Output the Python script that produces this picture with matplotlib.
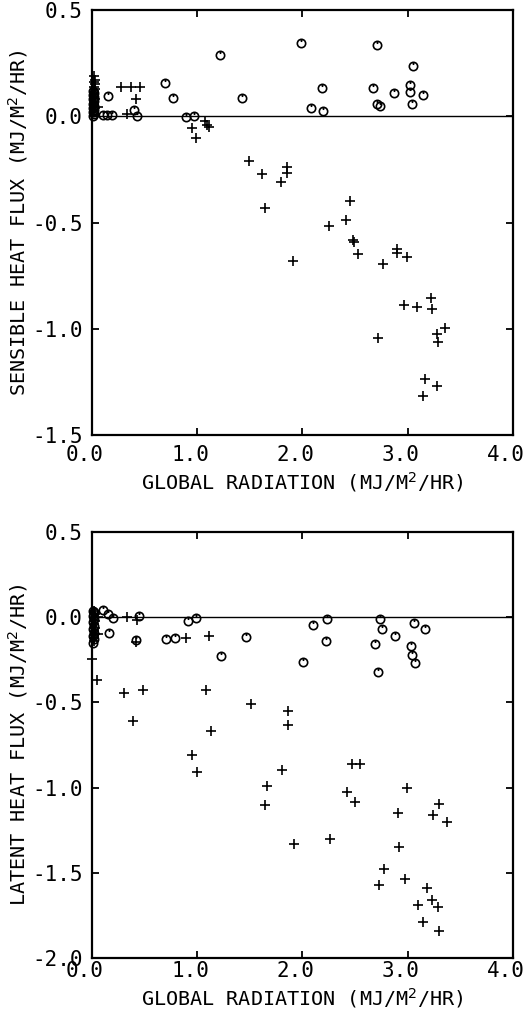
import matplotlib
matplotlib.use("Agg")
import matplotlib.pyplot as plt
from matplotlib.path import Path
from matplotlib.transforms import ScaledTranslation

plt.rcParams['font.family'] = ['DejaVu Sans Mono', 'DejaVu Sans']
plt.rcParams['axes.unicode_minus'] = False

# upper panel: sensible heat flux
sens_plus_x = [0.02, 0.03, 0.02, 0.03, 0.02, 0.03, 0.02, 0.02, 0.03, 0.02, 0.03, 0.02,
               0.06, 0.28, 0.37, 0.46, 0.42, 0.33, 0.95, 0.99, 1.07, 1.09, 1.11,
               1.49, 1.62, 1.80, 1.85, 1.85, 1.64, 2.45, 2.41, 2.25, 1.91, 2.48, 2.49,
               2.53, 2.77, 2.90, 2.90, 2.99, 2.97, 3.09, 3.22, 3.23, 3.36, 3.28, 3.29,
               2.72, 3.17, 3.28, 3.15]
sens_plus_y = [0.19, 0.17, 0.16, 0.15, 0.14, 0.13, 0.12, 0.10, 0.08, 0.06, 0.04, 0.02,
               0.044, 0.14, 0.14, 0.14, 0.08, 0.012, -0.055, -0.10, -0.02, -0.04, -0.05,
               -0.21, -0.27, -0.31, -0.24, -0.265, -0.43, -0.40, -0.49, -0.515, -0.68, -0.58, -0.59,
               -0.65, -0.695, -0.625, -0.645, -0.66, -0.886, -0.896, -0.855, -0.907, -0.995, -1.026, -1.06,
               -1.045, -1.237, -1.27, -1.318]
sens_circ_x = [0.01, 0.02, 0.01, 0.02, 0.01, 0.02, 0.01, 0.02, 0.01, 0.02, 0.01, 0.02, 0.01,
               0.10, 0.145, 0.19, 0.155, 0.40, 0.43, 0.69, 0.77, 1.22, 0.89, 0.97, 1.43,
               1.99, 2.71, 3.05, 2.19, 2.67, 2.87, 3.02, 3.02, 3.15, 2.08, 2.20, 2.71, 2.74, 3.04]
sens_circ_y = [0.12, 0.11, 0.10, 0.09, 0.08, 0.07, 0.06, 0.05, 0.04, 0.03, 0.02, 0.01, 0.0,
               0.007, 0.005, 0.007, 0.097, 0.03, 0.0, 0.155, 0.088, 0.287, -0.003, 0.003, 0.085,
               0.347, 0.337, 0.237, 0.133, 0.135, 0.108, 0.146, 0.116, 0.10, 0.04, 0.024, 0.06, 0.05, 0.058]

# lower panel: latent heat flux
lat_plus_x = [0.02, 0.03, 0.02, 0.03, 0.02, 0.03, 0.02, 0.03, 0.02, 0.02,
              0.06, 0.06, 0.33, 0.43, 0.89, 1.11, 0.0, 0.045, 0.30, 0.48, 1.08, 0.39, 1.13,
              1.51, 1.86, 1.86, 0.95, 1.00, 1.66, 1.64, 1.81, 2.47, 2.55, 2.42, 2.50, 2.99,
              3.30, 3.24, 3.37, 2.91, 1.92, 2.26, 2.92, 2.78, 2.73, 2.98, 3.18, 3.23, 3.10,
              3.29, 3.15, 3.30, 0.42]
lat_plus_y = [0.04, 0.02, 0.0, -0.02, -0.04, -0.06, -0.08, -0.10, -0.12, -0.14,
              0.0, -0.10, 0.0, -0.015, -0.12, -0.11, -0.245, -0.37, -0.445, -0.425, -0.425, -0.61, -0.665,
              -0.51, -0.55, -0.63, -0.806, -0.91, -0.988, -1.10, -0.894, -0.863, -0.863, -1.027, -1.086, -1.0,
              -1.098, -1.16, -1.20, -1.15, -1.33, -1.30, -1.35, -1.48, -1.57, -1.535, -1.586, -1.66, -1.69,
              -1.70, -1.786, -1.84, -0.145]
lat_circ_x = [0.01, 0.02, 0.01, 0.02, 0.01, 0.02, 0.01, 0.02, 0.01, 0.02, 0.01,
              0.10, 0.15, 0.20, 0.45, 0.165, 0.42, 0.70, 0.79, 0.91, 0.99, 1.23, 1.46,
              2.10, 2.23, 2.22, 2.01, 2.74, 2.76, 2.69, 2.72, 2.88, 3.06, 3.17, 3.03, 3.04, 3.07]
lat_circ_y = [0.04, 0.03, 0.01, -0.01, -0.03, -0.05, -0.07, -0.09, -0.11, -0.13, -0.15,
              0.041, 0.018, -0.004, 0.006, -0.092, -0.135, -0.125, -0.12, -0.02, -0.004, -0.225, -0.116,
              -0.043, -0.012, -0.14, -0.265, -0.008, -0.067, -0.155, -0.32, -0.108, -0.035, -0.069, -0.169, -0.22, -0.27]

x_ticks = [0.0, 1.0, 2.0, 3.0, 4.0]
sens_ticks = [0.5, 0.0, -0.5, -1.0, -1.5]
lat_ticks = [0.5, 0.0, -0.5, -1.0, -1.5, -2.0]

# plotter style circle with a small notch at the top
circ = Path.unit_circle()
notch = Path([[0, 1], [0, 0.35]], [Path.MOVETO, Path.LINETO])
circ_marker = Path.make_compound_path(circ, notch)

fig = plt.figure(figsize=(5.24, 10.14), dpi=100)
ax1 = fig.add_axes([0.1756, 0.571, 0.803, 0.419])
ax2 = fig.add_axes([0.1756, 0.0552, 0.803, 0.420])

panels = [
    (ax1, sens_plus_x, sens_plus_y, sens_circ_x, sens_circ_y, sens_ticks, (-1.5, 0.5),
     "SENSIBLE HEAT FLUX (MJ/M$^2$/HR)", 7),
    (ax2, lat_plus_x, lat_plus_y, lat_circ_x, lat_circ_y, lat_ticks, (-2.0, 0.5),
     "LATENT HEAT FLUX (MJ/M$^2$/HR)", 2),
]

for ax, px, py, cx, cy, yt, ylim, ylab, xpad in panels:
    ax.axhline(0.0, color="black", lw=1.0, zorder=1)
    ax.plot(px, py, linestyle="none", marker="+", ms=7, mew=1.2, color="black",
            clip_on=False, zorder=3)
    ax.plot(cx, cy, linestyle="none", marker=circ_marker, ms=6, mew=1.2,
            mfc="none", mec="black", clip_on=False, zorder=3)
    ax.set_xlim(0.0, 4.0)
    ax.set_ylim(*ylim)
    ax.set_xticks(x_ticks)
    ax.set_xticklabels([f"{v:.1f}" for v in x_ticks])
    ax.set_yticks(yt)
    ax.set_yticklabels([f"{v:.1f}" for v in yt])
    ax.tick_params(direction="in", length=5, width=1.3, top=True, right=True,
                   labelsize=15)
    ax.tick_params(axis="y", pad=6.5)
    ax.tick_params(axis="x", pad=xpad)
    for s in ax.spines.values():
        s.set_linewidth(1.6)
    ax.set_xlabel("GLOBAL RADIATION (MJ/M$^2$/HR)", fontsize=14.5, labelpad=4)
    ax.set_ylabel(ylab, fontsize=14.5, labelpad=2)
    shift = ScaledTranslation(-7 / 100, 0, fig.dpi_scale_trans)
    for lab in ax.get_xticklabels():
        lab.set_transform(lab.get_transform() + shift)

fig.savefig("out.png", dpi=100)
